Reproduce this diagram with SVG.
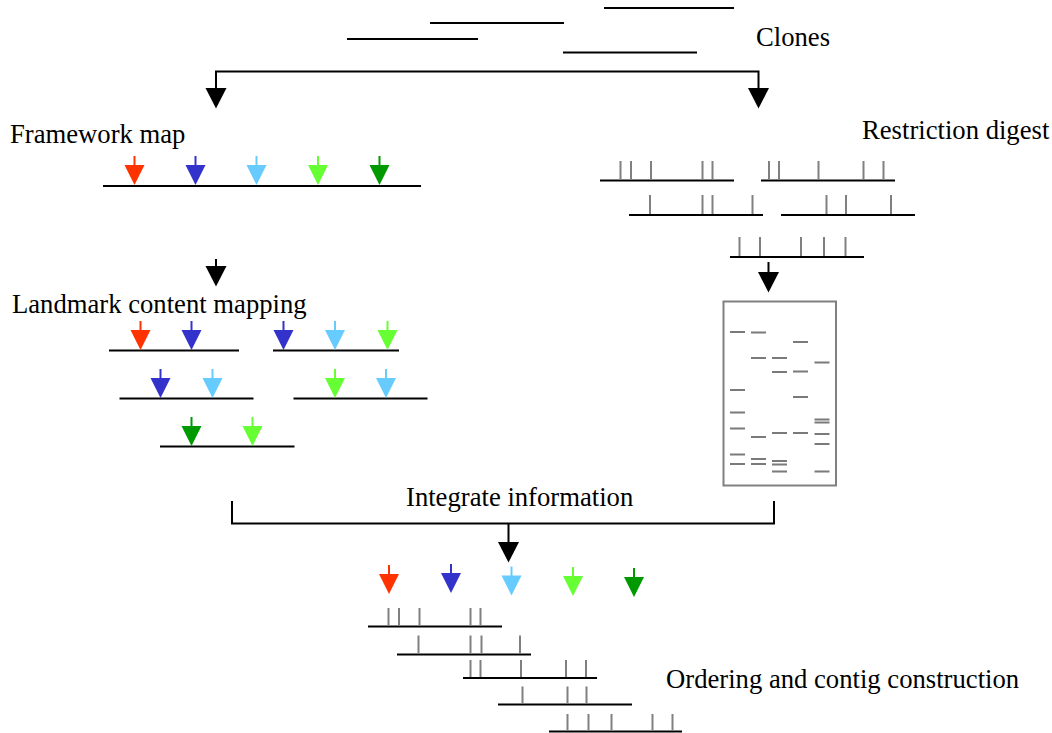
<svg xmlns="http://www.w3.org/2000/svg" xmlns:xlink="http://www.w3.org/1999/xlink" width="1052" height="733" viewBox="0 0 1052 733">
  <style>
    .lbl { font-family: "Liberation Serif", "Times New Roman", serif; font-size: 26.67px; fill: #000; }
    .clone { stroke: #000; stroke-width: 2; fill: none; }
    .tick { stroke: #808080; stroke-width: 2; fill: none; }
    .band { stroke: #7a7a7a; stroke-width: 2; fill: none; }
    .conn { stroke: #000; stroke-width: 2; fill: none; }
    .red { color: #ff3300; }
    .blue { color: #3333cc; }
    .cyan { color: #66ccff; }
    .lime { color: #66ff33; }
    .green { color: #009900; }
  </style>
  <defs>
    <!-- coloured landmark marker: stem + downward head, tip 20px below origin -->
    <g id="pin">
      <line x1="0" y1="-9" x2="0" y2="1" stroke="currentColor" stroke-width="2"/>
      <polygon points="-10,0 10,0 0,20" fill="currentColor"/>
    </g>
    <!-- black flow arrowhead, tip 20px below origin -->
    <polygon id="head" points="-10.5,0 10.5,0 0,20.5" fill="#000"/>
  </defs>

  <!-- labels -->
  <g id="labels">
    <text class="lbl" x="756" y="46">Clones</text>
    <text class="lbl" x="10" y="143">Framework map</text>
    <text class="lbl" x="862" y="139">Restriction digest</text>
    <text class="lbl" x="12" y="313">Landmark content mapping</text>
    <text class="lbl" x="406" y="506">Integrate information</text>
    <text class="lbl" x="666" y="688">Ordering and contig construction</text>
  </g>

  <!-- clone set -->
  <g id="clones" class="clone">
    <line x1="347" y1="39" x2="478" y2="39"/>
    <line x1="430" y1="23" x2="564" y2="23"/>
    <line x1="604" y1="8" x2="734" y2="8"/>
    <line x1="563" y1="52.5" x2="697" y2="52.5"/>
  </g>

  <!-- framework map -->
  <g id="framework-map">
    <line class="clone" x1="103" y1="186" x2="421" y2="186"/>
    <use xlink:href="#pin" class="red" x="134.5" y="165"/>
    <use xlink:href="#pin" class="blue" x="195.5" y="165"/>
    <use xlink:href="#pin" class="cyan" x="256.5" y="165"/>
    <use xlink:href="#pin" class="lime" x="318" y="165"/>
    <use xlink:href="#pin" class="green" x="379.5" y="165"/>
  </g>

  <!-- restriction digest fragments -->
  <g id="restriction-digest">
    <g class="clone">
      <line x1="600" y1="180.5" x2="734" y2="180.5"/>
      <line x1="761" y1="180.5" x2="895" y2="180.5"/>
      <line x1="629" y1="215" x2="763" y2="215"/>
      <line x1="781" y1="215" x2="915" y2="215"/>
      <line x1="730" y1="257" x2="864" y2="257"/>
    </g>
    <path class="tick" d="M620.5,161V180 M631,161V180 M651,161V180 M702.5,161V180 M712.5,161V180
                          M769,161V180 M779,161V180 M818.5,161V180 M863.5,161V180 M883.5,161V180
                          M650,195V214 M702.5,195V214 M712.5,195V214 M752.5,195V214
                          M826.5,195V214 M846,195V214 M891,195V214
                          M739.5,237V256 M760,237V256 M801,237V256 M824,237V256 M845.5,237V256"/>
  </g>

  <!-- landmark content mapping -->
  <g id="landmark-mapping">
    <g class="clone">
      <line x1="109" y1="350.5" x2="239" y2="350.5"/>
      <line x1="273" y1="350.5" x2="399" y2="350.5"/>
      <line x1="119.5" y1="398.5" x2="253.5" y2="398.5"/>
      <line x1="293.5" y1="398.5" x2="427.5" y2="398.5"/>
      <line x1="160" y1="446.5" x2="294.5" y2="446.5"/>
    </g>
    <use xlink:href="#pin" class="red" x="140.5" y="330"/>
    <use xlink:href="#pin" class="blue" x="191.5" y="330"/>
    <use xlink:href="#pin" class="blue" x="283.5" y="330"/>
    <use xlink:href="#pin" class="cyan" x="335" y="330"/>
    <use xlink:href="#pin" class="lime" x="387.5" y="330"/>
    <use xlink:href="#pin" class="blue" x="160.5" y="378"/>
    <use xlink:href="#pin" class="cyan" x="212.5" y="378"/>
    <use xlink:href="#pin" class="lime" x="335" y="378"/>
    <use xlink:href="#pin" class="cyan" x="386" y="378"/>
    <use xlink:href="#pin" class="green" x="191.5" y="426"/>
    <use xlink:href="#pin" class="lime" x="252.5" y="426"/>
  </g>

  <!-- fingerprint gel -->
  <g id="gel">
    <rect x="723.5" y="301.5" width="112.5" height="184" fill="#fff" stroke="#808080" stroke-width="2"/>
    <path class="band" d="M730,332h15 M730,390h15 M730,412.5h15 M730,428.5h15 M730,454.5h15 M730,464h15
                          M751,332.5h15 M751,358h15 M751,437h15 M751,459h15 M751,464h15
                          M772,358h15 M772,372h15 M772,433h15 M772,461h15 M772,464.5h15 M772,471.5h15
                          M793,342h15 M793,371.5h15 M793,397h15 M793,433h15
                          M814.5,362.5h15 M814.5,419.5h15 M814.5,422.5h15 M814.5,434h15 M814.5,444h15 M814.5,471.5h15"/>
  </g>

  <!-- ordered contig -->
  <g id="contig">
    <use xlink:href="#pin" class="red" x="389" y="574"/>
    <use xlink:href="#pin" class="blue" x="451" y="573"/>
    <use xlink:href="#pin" class="cyan" x="511.5" y="575.5"/>
    <use xlink:href="#pin" class="lime" x="573" y="576"/>
    <use xlink:href="#pin" class="green" x="634" y="577"/>
    <g class="clone">
      <line x1="368" y1="626.5" x2="502" y2="626.5"/>
      <line x1="397" y1="654.5" x2="531" y2="654.5"/>
      <line x1="463" y1="678" x2="597" y2="678"/>
      <line x1="498" y1="704.5" x2="632" y2="704.5"/>
      <line x1="549" y1="731.5" x2="682" y2="731.5"/>
    </g>
    <path class="tick" d="M388.5,608V626 M399,608V626 M419.5,608V626 M470.5,608V626 M480.5,608V626
                          M418.5,635.5V654 M470.5,635.5V654 M481.5,635.5V654 M520,635.5V654
                          M470.5,660V677 M480.5,660V677 M521,660V677 M566,660V677 M586,660V677
                          M522.5,686.5V704 M567.5,686.5V704 M586.5,686.5V704
                          M567.5,714V731 M588.5,714V731 M611.5,714V731 M652.5,714V731 M672.5,714V731"/>
  </g>

  <!-- flow connectors -->
  <g id="connectors">
    <path class="conn" d="M216,89V71.5H758.5V89"/>
    <use xlink:href="#head" x="216" y="88"/>
    <use xlink:href="#head" x="758.5" y="88"/>
    <path class="conn" d="M216,259V267"/>
    <use xlink:href="#head" x="216" y="266"/>
    <path class="conn" d="M768.5,262V273"/>
    <use xlink:href="#head" x="768.5" y="272"/>
    <path class="conn" d="M232,501V523.5H774V501 M508.5,523.5V543"/>
    <use xlink:href="#head" x="508.5" y="542"/>
  </g>
</svg>
